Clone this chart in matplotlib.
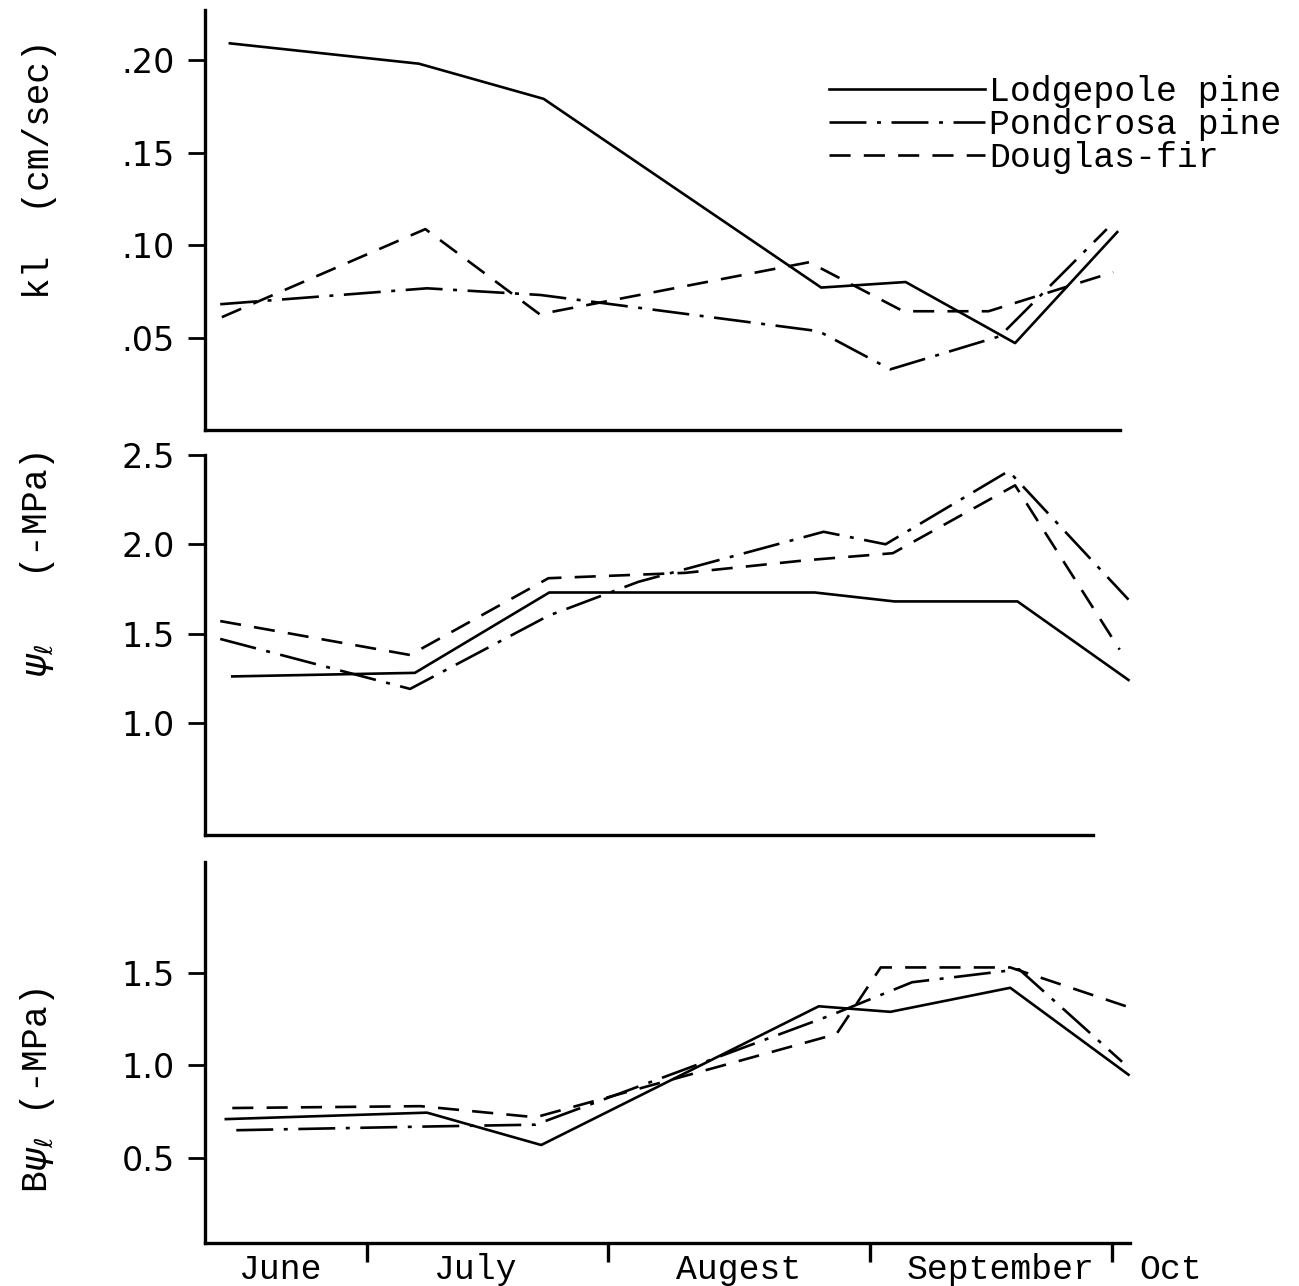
import matplotlib
matplotlib.use('Agg')
import matplotlib.pyplot as plt

# x values are days counted from June 1 (day 30 = July 1, ...)
# ---- top panel: kl (cm/sec) ----
kl_lodge_x = [12.3, 35.8, 51.3, 85.8, 96.3, 109.9, 122.6]
kl_lodge_y = [0.209, 0.198, 0.179, 0.077, 0.080, 0.047, 0.107]
kl_ponde_x = [11.1, 36.8, 50.9, 85.5, 94.4, 108.0, 121.3]
kl_ponde_y = [0.068, 0.0766, 0.073, 0.0534, 0.0328, 0.0507, 0.1086]
kl_doug_x = [11.3, 36.6, 50.8, 84.3, 96.0, 106.6, 122.1]
kl_doug_y = [0.061, 0.1086, 0.0626, 0.0907, 0.0642, 0.0642, 0.0853]

# ---- middle panel: leaf water potential (-MPa) ----
psi_lodge_x = [12.6, 35.3, 52.0, 85.0, 94.9, 110.2, 124.0]
psi_lodge_y = [1.26, 1.28, 1.73, 1.73, 1.68, 1.68, 1.24]
psi_ponde_x = [11.1, 34.7, 51.9, 63.1, 86.1, 93.8, 109.1, 124.0]
psi_ponde_y = [1.47, 1.19, 1.60, 1.79, 2.07, 2.00, 2.41, 1.69]
psi_doug_x = [11.1, 34.7, 51.9, 68.9, 83.8, 94.7, 109.9, 122.9]
psi_doug_y = [1.57, 1.38, 1.81, 1.84, 1.91, 1.95, 2.33, 1.41]

# ---- bottom panel: base water potential (-MPa) ----
bpsi_lodge_x = [11.8, 36.8, 51.0, 85.5, 94.4, 109.3, 124.0]
bpsi_lodge_y = [0.71, 0.745, 0.57, 1.32, 1.29, 1.42, 0.95]
bpsi_ponde_x = [13.1, 36.8, 50.3, 86.9, 97.1, 110.4, 123.2]
bpsi_ponde_y = [0.65, 0.67, 0.68, 1.27, 1.45, 1.52, 1.02]
bpsi_doug_x = [12.6, 36.0, 50.3, 87.7, 93.2, 109.3, 123.7]
bpsi_doug_y = [0.77, 0.78, 0.72, 1.17, 1.53, 1.53, 1.32]

labels = ['Lodgepole pine', 'Pondcrosa pine', 'Douglas-fir']
month_edges = [29.4, 59.3, 91.9, 122.0]
month_names = ['June', 'July', 'Augest', 'September', 'Oct']
month_centers = [18.6, 42.8, 75.5, 108.1, 129.2]

mono = 'Liberation Mono'
lw = 1.9
styles = ['-', (0, (14, 4, 1.5, 4)), (0, (8, 5))]

fig = plt.figure(figsize=(12.99, 12.86), dpi=100)
ax1 = fig.add_axes([0.158, 0.6656, 0.712, 0.3266])
ax2 = fig.add_axes([0.158, 0.3507, 0.712, 0.2955])
ax3 = fig.add_axes([0.158, 0.0334, 0.712, 0.2963])

panels = [
    (ax1, [(kl_lodge_x, kl_lodge_y), (kl_ponde_x, kl_ponde_y), (kl_doug_x, kl_doug_y)]),
    (ax2, [(psi_lodge_x, psi_lodge_y), (psi_ponde_x, psi_ponde_y), (psi_doug_x, psi_doug_y)]),
    (ax3, [(bpsi_lodge_x, bpsi_lodge_y), (bpsi_ponde_x, bpsi_ponde_y), (bpsi_doug_x, bpsi_doug_y)]),
]

for ax, series in panels:
    for (x, y), ls, lab in zip(series, styles, labels):
        ax.plot(x, y, color='black', linestyle=ls, linewidth=lw, label=lab, clip_on=False)
    ax.set_xlim(9.24, 124.2)
    for s in ['top', 'right']:
        ax.spines[s].set_visible(False)
    for s in ['left', 'bottom']:
        ax.spines[s].set_linewidth(2.4)
    ax.tick_params(axis='y', direction='out', length=12, width=2, pad=10, labelsize=24)
    ax.tick_params(axis='x', bottom=False, labelbottom=False)

# top panel
ax1.set_ylim(0.0, 0.227)
ax1.set_yticks([0.05, 0.10, 0.15, 0.20])
ax1.set_yticklabels(['.05', '.10', '.15', '.20'])
ax1.spines['bottom'].set_bounds(9.24, 123.0)
ax1.set_ylabel('kl  (cm/sec)', family=mono, fontsize=26)
ax1.yaxis.set_label_coords(-0.16, 0.62)
ax1.legend(loc='upper right', bbox_to_anchor=(1.0, 0.955), bbox_transform=fig.transFigure,
           frameon=False, prop={'family': mono, 'size': 25}, handlelength=4.5,
           handletextpad=0.12, labelspacing=0.0, borderpad=0)

# middle panel
ax2.set_ylim(0.372, 2.5)
ax2.set_yticks([1.0, 1.5, 2.0, 2.5])
ax2.set_yticklabels(['1.0', '1.5', '2.0', '2.5'])
ax2.spines['bottom'].set_bounds(9.24, 119.6)
ax2.set_ylabel(r'$\psi_\ell$   (-MPa)', family=mono, fontsize=26)
ax2.yaxis.set_label_coords(-0.16, 0.71)

# bottom panel
ax3.set_ylim(0.04, 2.10)
ax3.set_yticks([0.5, 1.0, 1.5])
ax3.set_yticklabels(['0.5', '1.0', '1.5'])
ax3.set_ylabel(r'B$\psi_\ell$ (-MPa)', family=mono, fontsize=26)
ax3.yaxis.set_label_coords(-0.16, 0.40)
ax3.set_xticks(month_edges)
ax3.tick_params(axis='x', bottom=True, direction='out', length=14, width=2.4, labelbottom=False)
for name, c in zip(month_names, month_centers):
    ax3.text(c, -0.025, name, transform=ax3.get_xaxis_transform(), ha='center', va='top',
             family=mono, fontsize=25, clip_on=False)

fig.savefig('out.png', dpi=100)
